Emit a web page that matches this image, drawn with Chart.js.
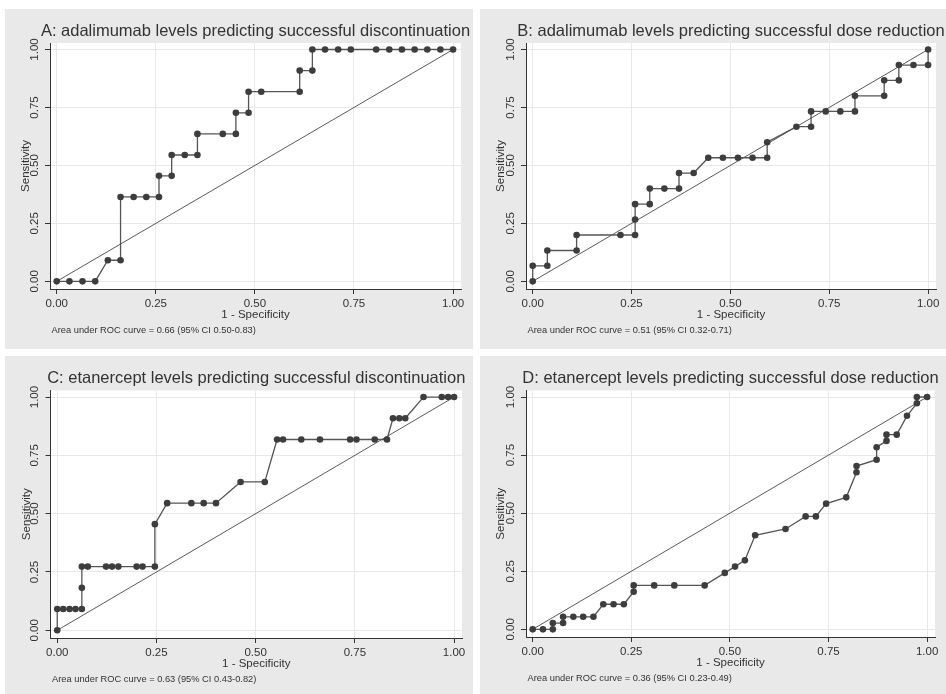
<!DOCTYPE html>
<html><head><meta charset="utf-8">
<script src="https://cdn.jsdelivr.net/npm/chart.js@4/dist/chart.umd.min.js"></script>
<style>
html,body{margin:0;padding:0;background:#fff;}
body{width:946px;height:694px;position:relative;overflow:hidden;}
canvas{position:absolute;}
</style></head><body>
<canvas id="cA" width="468" height="340" style="left:5px;top:9px"></canvas>
<canvas id="cB" width="466" height="340" style="left:480px;top:9px"></canvas>
<canvas id="cC" width="468" height="338" style="left:5px;top:356px"></canvas>
<canvas id="cD" width="466" height="338" style="left:480px;top:356px"></canvas>
<script>
// ---- data ----
const axisTicks = [0, 0.25, 0.5, 0.75, 1];
const xTitle = '1 - Specificity';
const yTitle = 'Sensitivity';
const titles = [
  'A: adalimumab levels predicting successful discontinuation',
  'B: adalimumab levels predicting successful dose reduction',
  'C: etanercept levels predicting successful discontinuation',
  'D: etanercept levels predicting successful dose reduction'
];
const aucNotes = [
  'Area under ROC curve = 0.66 (95% CI 0.50-0.83)',
  'Area under ROC curve = 0.51 (95% CI 0.32-0.71)',
  'Area under ROC curve = 0.63 (95% CI 0.43-0.82)',
  'Area under ROC curve = 0.36 (95% CI 0.23-0.49)'
];
const refX = [0, 1];
const refY = [0, 1];

const fprA = [0, 0.032, 0.065, 0.097, 0.129, 0.161, 0.161, 0.194, 0.226, 0.258, 0.258, 0.290, 0.290, 0.323, 0.355, 0.355, 0.419, 0.452, 0.452, 0.484, 0.484, 0.516, 0.613, 0.613, 0.645, 0.645, 0.677, 0.710, 0.742, 0.806, 0.839, 0.871, 0.903, 0.935, 0.968, 1.0];
const sensA = [0, 0, 0, 0, 0.091, 0.091, 0.364, 0.364, 0.364, 0.364, 0.455, 0.455, 0.545, 0.545, 0.545, 0.636, 0.636, 0.636, 0.727, 0.727, 0.818, 0.818, 0.818, 0.909, 0.909, 1, 1, 1, 1, 1, 1, 1, 1, 1, 1, 1];

const fprB = [0, 0, 0.037, 0.037, 0.111, 0.111, 0.222, 0.259, 0.259, 0.259, 0.296, 0.296, 0.333, 0.370, 0.370, 0.407, 0.444, 0.481, 0.519, 0.556, 0.593, 0.593, 0.667, 0.704, 0.704, 0.741, 0.778, 0.815, 0.815, 0.889, 0.889, 0.926, 0.926, 0.963, 1.0, 1.0];
const sensB = [0, 0.067, 0.067, 0.133, 0.133, 0.2, 0.2, 0.2, 0.267, 0.333, 0.333, 0.4, 0.4, 0.4, 0.467, 0.467, 0.533, 0.533, 0.533, 0.533, 0.533, 0.6, 0.667, 0.667, 0.733, 0.733, 0.733, 0.733, 0.8, 0.8, 0.867, 0.867, 0.933, 0.933, 0.933, 1.0];

const fprC = [0, 0, 0.015, 0.031, 0.046, 0.062, 0.062, 0.062, 0.077, 0.123, 0.138, 0.154, 0.200, 0.215, 0.246, 0.246, 0.277, 0.338, 0.369, 0.400, 0.462, 0.523, 0.554, 0.569, 0.615, 0.662, 0.738, 0.754, 0.800, 0.831, 0.846, 0.862, 0.877, 0.923, 0.969, 0.985, 1.0];
const sensC = [0, 0.091, 0.091, 0.091, 0.091, 0.091, 0.182, 0.273, 0.273, 0.273, 0.273, 0.273, 0.273, 0.273, 0.273, 0.455, 0.545, 0.545, 0.545, 0.545, 0.636, 0.636, 0.818, 0.818, 0.818, 0.818, 0.818, 0.818, 0.818, 0.818, 0.909, 0.909, 0.909, 1, 1, 1, 1];

const fprD = [0, 0.026, 0.051, 0.051, 0.077, 0.077, 0.103, 0.128, 0.154, 0.179, 0.205, 0.231, 0.256, 0.256, 0.308, 0.359, 0.436, 0.487, 0.513, 0.538, 0.564, 0.641, 0.692, 0.718, 0.744, 0.795, 0.821, 0.821, 0.872, 0.872, 0.897, 0.897, 0.923, 0.949, 0.974, 0.974, 1.0];
const sensD = [0, 0, 0, 0.027, 0.027, 0.054, 0.054, 0.054, 0.054, 0.108, 0.108, 0.108, 0.162, 0.189, 0.189, 0.189, 0.189, 0.243, 0.270, 0.297, 0.405, 0.432, 0.486, 0.486, 0.541, 0.568, 0.676, 0.703, 0.730, 0.784, 0.811, 0.838, 0.838, 0.919, 0.973, 1.0, 1.0];

// ---- drawing ----
const FAMILY = '"Liberation Sans", Arial, Helvetica, sans-serif';
const TXT = '#333333';

const panelPlugin = {
  id: 'panel',
  beforeDraw(chart, args, opts) {
    const {ctx, chartArea: a, width, height} = chart;
    ctx.save();
    ctx.fillStyle = '#e9e9ea';
    ctx.fillRect(0, 0, width, height);
    ctx.fillStyle = '#ffffff';
    ctx.fillRect(a.left, a.top, a.right - a.left, a.bottom - a.top);
    ctx.restore();
  },
  afterDraw(chart, args, opts) {
    const {ctx, chartArea: a} = chart;
    ctx.save();
    ctx.fillStyle = TXT;
    ctx.font = '16.5px ' + FAMILY;
    ctx.textAlign = 'center';
    ctx.textBaseline = 'alphabetic';
    ctx.fillText(opts.title, (a.left + a.right) / 2, opts.titleY);
    ctx.font = '9.3px ' + FAMILY;
    ctx.textAlign = 'left';
    ctx.textBaseline = 'middle';
    ctx.fillText(opts.note, a.left + 1.5, a.bottom + 41);
    ctx.restore();
  }
};

function makeChart(id, fpr, sens, idx, p) {
  const pts = fpr.map((x, i) => ({x: x, y: sens[i]}));
  const ref = refX.map((x, i) => ({x: x, y: refY[i]}));
  return new Chart(document.getElementById(id), {
    type: 'scatter',
    data: {
      datasets: [
        {data: pts, showLine: true, borderColor: '#555555', borderWidth: 1.3,
         pointRadius: 3.3, pointHoverRadius: 3.3, pointBackgroundColor: '#3d3d3d',
         pointBorderColor: '#3d3d3d', pointBorderWidth: 0},
        {data: ref, showLine: true, borderColor: '#5a5a5a', borderWidth: 1, pointRadius: 0, pointHoverRadius: 0}
      ]
    },
    options: {
      responsive: false, animation: false, devicePixelRatio: 1, events: [],
      layout: {padding: {left: 0, top: p.padT, right: p.padR, bottom: 0}},
      plugins: {
        legend: {display: false}, tooltip: {enabled: false},
        panel: {title: titles[idx], note: aucNotes[idx], titleY: 27}
      },
      scales: {
        x: {
          type: 'linear', min: -0.017, max: 1.02,
          afterBuildTicks: s => { s.ticks = axisTicks.map(v => ({value: v})); },
          afterFit: s => { s.height = p.xH; },
          grid: {color: '#e8e8e8', tickColor: '#333', tickLength: 5, lineWidth: 1},
          border: {display: true, color: '#333', width: 1},
          ticks: {autoSkip: false, maxRotation: 0, minRotation: 0, padding: 2.5, color: TXT,
                  font: {size: 11.5, family: FAMILY}, callback: v => Number(v).toFixed(2)},
          title: {display: true, text: xTitle, color: TXT, font: {size: 11.5, family: FAMILY},
                  padding: {top: 0, bottom: p.xH - 25.5 - 6.9}}
        },
        y: {
          type: 'linear', min: -0.033, max: 1.028,
          afterBuildTicks: s => { s.ticks = axisTicks.map(v => ({value: v})); },
          afterFit: s => { s.width = p.yW; },
          grid: {color: '#e8e8e8', tickColor: '#333', tickLength: 5, lineWidth: 1},
          border: {display: true, color: '#333', width: 1},
          ticks: {autoSkip: false, minRotation: 90, maxRotation: 90, crossAlign: 'center', padding: -1,
                  color: TXT, font: {size: 11.5, family: FAMILY}, callback: v => Number(v).toFixed(2)},
          title: {display: true, text: yTitle, color: TXT, font: {size: 11.5, family: FAMILY},
                  padding: {top: p.yTP, bottom: 0}}
        }
      }
    },
    plugins: [panelPlugin]
  });
}

makeChart('cA', fprA, sensA, 0, {padT: 34, padR: 12, xH: 60, yW: 45, yTP: 14});
makeChart('cB', fprB, sensB, 1, {padT: 34, padR: 10, xH: 60, yW: 46, yTP: 13.5});
makeChart('cC', fprC, sensC, 2, {padT: 34.5, padR: 11, xH: 56, yW: 45.5, yTP: 14.5});
makeChart('cD', fprD, sensD, 3, {padT: 34.5, padR: 11, xH: 57, yW: 46, yTP: 13.5});
</script>
</body></html>
